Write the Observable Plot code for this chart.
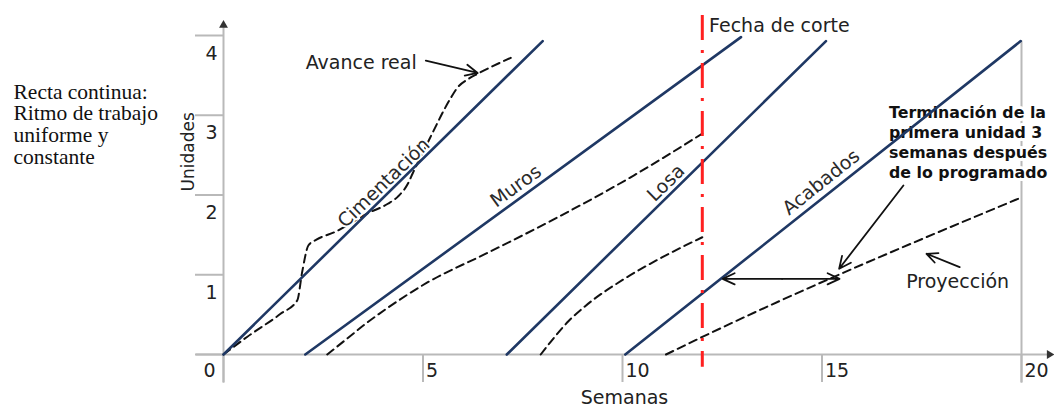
<!DOCTYPE html>
<html>
<head>
<meta charset="utf-8">
<script src="https://cdn.jsdelivr.net/npm/d3@7"></script>
<script src="https://cdn.jsdelivr.net/npm/@observablehq/plot@0.6"></script>
<style>
  html, body { margin: 0; padding: 0; background: #fff; overflow: hidden; }
  #chart svg { display: block; overflow: hidden; }
</style>
</head>
<body>
<div id="chart"></div>
<script>
// ---------- data ----------
const semanasTicks = [0, 5, 10, 15, 20];
const unidadesTicks = [0, 1, 2, 3, 4];

const actividades = ["Cimentación", "Muros", "Losa", "Acabados"];
const inicioProgramado = [0, 2.05, 7.1, 10.07];          // semana de inicio (0 unidades)
const finProgramado = [8.0, 12.97, 15.1, 19.98];         // semana final
const unidadesFinProgramado = [3.93, 3.98, 3.93, 3.93];  // unidades al final

const cimentacionRealSemanas = [0, 0.59, 1.43, 1.85, 1.97, 2.13, 2.33, 2.81, 3.61, 4.12, 4.37, 4.62, 4.74, 5.27, 5.52, 5.70, 5.87, 6.12, 6.37, 7.20];
const cimentacionRealUnidades = [0, 0.22, 0.51, 0.68, 1.03, 1.37, 1.44, 1.54, 1.77, 1.89, 1.98, 2.14, 2.27, 2.81, 3.06, 3.22, 3.35, 3.45, 3.52, 3.72];

const murosRealSemanas = [2.6, 3.1, 3.6, 4.1, 5.1, 6.6, 8.3, 10.3, 12.0];
const murosRealUnidades = [0, 0.2, 0.4, 0.58, 0.9, 1.27, 1.7, 2.25, 2.77];

const losaRealSemanas = [7.95, 8.3, 8.65, 9.05, 10.05, 11.0, 12.0];
const losaRealUnidades = [0, 0.22, 0.42, 0.6, 0.95, 1.22, 1.47];

const acabadosProyeccionSemanas = [11.09, 12.0, 20.0];
const acabadosProyeccionUnidades = [0, 0.22, 1.97];

const fechaCorte = 12;

const textoLateral = ["Recta continua:", "Ritmo de trabajo", "uniforme y", "constante"];
const textoTerminacion = ["Terminación de la", "primera unidad 3", "semanas después", "de lo programado"];

// ---------- annotation layout (in chart units) ----------
const etiquetasActividad = [
  {text: "Cimentación", x: 4.02, y: 2.15, angle: -44},
  {text: "Muros", x: 7.33, y: 2.11, angle: -36},
  {text: "Losa", x: 11.09, y: 2.15, angle: -44.5},
  {text: "Acabados", x: 14.98, y: 2.16, angle: -38.5}
];
const notas = [
  {text: "Fecha de corte", x: 12.17, y: 4.04},
  {text: "Avance real", x: 2.06, y: 3.58},
  {text: "Proyección", x: 17.11, y: 0.836}
];
const flechas = [
  {x1: 5.07, y1: 3.686, x2: 6.37, y2: 3.53},
  {x1: 17.04, y1: 2.12, x2: 15.43, y2: 1.075},
  {x1: 18.45, y1: 1.095, x2: 17.62, y2: 1.263},
  {x1: 14.0, y1: 0.949, x2: 12.51, y2: 0.949},
  {x1: 14.0, y1: 0.949, x2: 15.44, y2: 0.949}
];
const ejes = {xMin: -0.68, xMax: 20.66, yMin: -0.36, yMax: 4.1, yTop: 3.93, corteTop: 4.25, corteBottom: -0.16};
const puntasEjes = [
  {x: 0, y: 4.13, rotate: 0},
  {x: 20.70, y: 0, rotate: 90}
];

// ---------- tables ----------
const programado = actividades.flatMap((a, i) => [
  {actividad: a, semana: inicioProgramado[i], unidades: 0},
  {actividad: a, semana: finProgramado[i], unidades: unidadesFinProgramado[i]}
]);
const realSeries = [
  ["Cimentación", cimentacionRealSemanas, cimentacionRealUnidades],
  ["Muros", murosRealSemanas, murosRealUnidades],
  ["Losa", losaRealSemanas, losaRealUnidades],
  ["Acabados", acabadosProyeccionSemanas, acabadosProyeccionUnidades]
];
const real = realSeries.flatMap(([a, xs, ys]) => xs.map((s, j) => ({actividad: a, semana: s, unidades: ys[j]})));

const gris = "#b9b9b9";
const texto = "#222";
const navy = "#1f3864";
const font = "DejaVu Sans";

const chart = Plot.plot({
  width: 1054,
  height: 406,
  marginLeft: 223,
  marginRight: 33,
  marginTop: 35,
  marginBottom: 52,
  x: {domain: [0, 20]},
  y: {domain: [0, 4]},
  style: {background: "#fff", fontFamily: font},
  marks: [
    // axes
    Plot.axisX({ticks: semanasTicks, tickSize: 28, stroke: gris, strokeWidth: 2, fill: "none", label: null}),
    Plot.axisY({ticks: unidadesTicks, tickSize: 28, stroke: gris, strokeWidth: 2, fill: "none", label: null}),
    Plot.ruleY([0], {x1: ejes.xMin, x2: ejes.xMax, stroke: gris, strokeWidth: 2}),
    Plot.ruleX([0], {y1: ejes.yMin, y2: ejes.yMax, stroke: gris, strokeWidth: 2}),
    Plot.ruleX([20], {y1: ejes.yMin, y2: ejes.yTop, stroke: gris, strokeWidth: 2}),
    Plot.dot(puntasEjes, {x: "x", y: "y", rotate: "rotate", symbol: "triangle", r: 3.3, fill: "#333", stroke: null}),

    // actual progress (dashed)
    Plot.line(real, {x: "semana", y: "unidades", z: "actividad", stroke: "#111", strokeWidth: 2, strokeDasharray: "8,5", curve: "monotone-x"}),

    // activity labels and bold annotation (with white halo)
    Plot.text(etiquetasActividad, {x: "x", y: "y", text: "text", rotate: "angle", fontSize: 19, fill: "#2a2a2a", stroke: "#fff", strokeWidth: 4}),
    Plot.text([textoTerminacion.join("\n")], {x: 16.68, y: 3.143, textAnchor: "start", lineAnchor: "top", lineHeight: 1.26, fontSize: 15.8, fontWeight: "bold", fill: "#111", stroke: "#fff", strokeWidth: 6}),

    // planned (solid)
    Plot.line(programado, {x: "semana", y: "unidades", z: "actividad", stroke: navy, strokeWidth: 2.6}),

    // cut-off date
    Plot.ruleX([fechaCorte], {y1: ejes.corteTop, y2: ejes.corteBottom, stroke: "#ff2020", strokeWidth: 3, strokeDasharray: "25,10,3,10"}),

    // arrows
    Plot.arrow(flechas, {x1: "x1", y1: "y1", x2: "x2", y2: "y2", stroke: "#111", strokeWidth: 1.8, headLength: 11, headAngle: 50}),

    // notes
    Plot.text(notas, {x: "x", y: "y", text: "text", textAnchor: "start", lineAnchor: "bottom", fontSize: 19, fill: texto}),

    // tick labels
    Plot.text(unidadesTicks.filter(d => d > 0), {x: 0, y: d => d, text: d => String(d), dx: -12, dy: 18, fontSize: 19, fill: texto}),
    Plot.text(semanasTicks.filter(d => d > 0), {x: d => d, y: 0, text: d => String(d), textAnchor: "start", dx: 3, dy: 16, fontSize: 19, fill: texto}),
    Plot.text([0], {x: 0, y: 0, text: d => String(d), dx: -14, dy: 16, fontSize: 19, fill: texto}),

    // axis titles
    Plot.text(["Semanas"], {frameAnchor: "bottom", dx: 2, dy: 49, lineAnchor: "bottom", fontSize: 19, fill: texto}),
    Plot.text(["Unidades"], {frameAnchor: "left", rotate: -90, dx: -35, dy: -3.5, fontSize: 17, fill: texto}),

    // side caption
    Plot.text([textoLateral.join("\n")], {frameAnchor: "top-left", dx: -210, dy: 47.7, textAnchor: "start", lineAnchor: "top", lineHeight: 1.01, fontSize: 21.5, fontFamily: "Liberation Serif", fill: "#111"})
  ]
});
document.getElementById("chart").append(chart);
</script>
</body>
</html>
